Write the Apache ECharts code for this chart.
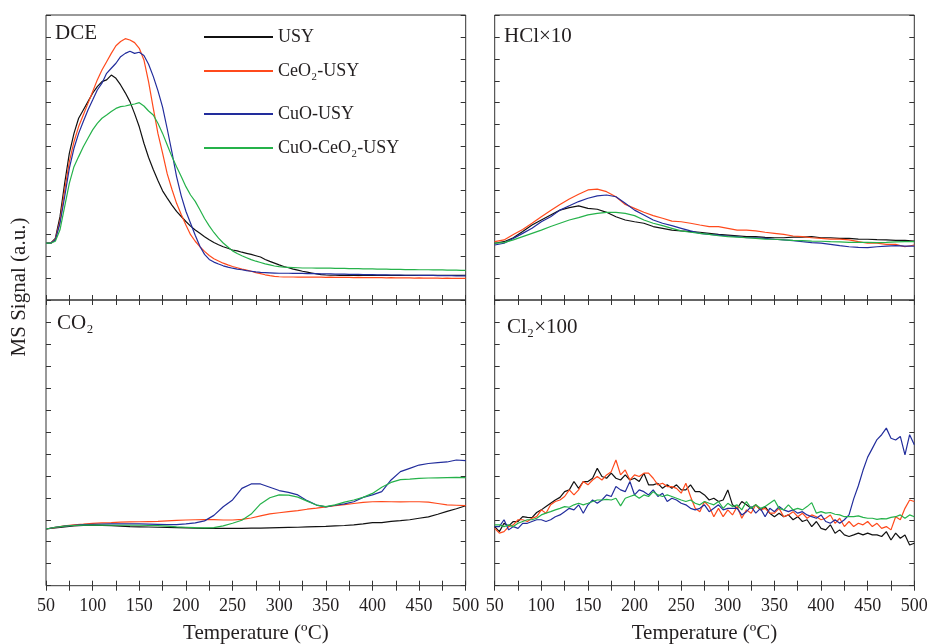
<!DOCTYPE html>
<html>
<head>
<meta charset="utf-8">
<script src="https://cdn.jsdelivr.net/npm/echarts/dist/echarts.min.js"></script>
<style>
  html, body { margin: 0; padding: 0; background: #fff; }
  #chart { width: 928px; height: 644px; }
</style>
</head>
<body>
<div id="chart"></div>
<script>
// temperature grids (ºC)
const temps = [50, 55, 60, 65, 70, 75, 80, 85, 90, 95, 100, 105, 110, 115, 120, 125, 130, 135, 140, 145,
  150, 155, 160, 165, 170, 175, 180, 185, 190, 195, 200, 205, 210, 215, 220, 225, 230, 235, 240, 245,
  250, 255, 260, 265, 270, 275, 280, 285, 290, 295, 300, 305, 310, 315, 320, 325, 330, 335, 340, 345,
  350, 355, 360, 365, 370, 375, 380, 385, 390, 395, 400, 405, 410, 415, 420, 425, 430, 435, 440, 445,
  450, 455, 460, 465, 470, 475, 480, 485, 490, 495, 500]
const tempsCoarse = [50, 60, 70, 80, 90, 100, 110, 120, 130, 140, 150, 160, 170, 180, 190, 200, 210, 220, 230, 240,
  250, 260, 270, 280, 290, 300, 310, 320, 330, 340, 350, 360, 370, 380, 390, 400, 410, 420, 430, 440,
  450, 460, 470, 480, 490, 500]

const samples = ['USY', 'CeO₂-USY', 'CuO-USY', 'CuO-CeO₂-USY']
const colors = ['#111111', '#ff4a1c', '#222d9c', '#25b24a']

// DCE (5 ºC steps)
const dceUSY = [2.59, 2.59, 2.81, 3.80, 5.32, 6.69, 7.60, 8.29, 8.67, 9.05,
  9.43, 9.73, 9.96, 10.04, 10.26, 10.11, 9.81, 9.45, 9.05, 8.50,
  7.90, 7.15, 6.50, 5.95, 5.45, 4.98, 4.65, 4.33, 4.04, 3.81,
  3.58, 3.37, 3.19, 3.04, 2.89, 2.75, 2.62, 2.52, 2.43, 2.36,
  2.28, 2.24, 2.18, 2.13, 2.08, 2.02, 1.96, 1.85, 1.76, 1.68,
  1.60, 1.53, 1.47, 1.41, 1.36, 1.31, 1.27, 1.23, 1.19, 1.16,
  1.14, 1.13, 1.13, 1.12, 1.13, 1.12, 1.12, 1.13, 1.12, 1.12,
  1.12, 1.13, 1.12, 1.12, 1.12, 1.12, 1.12, 1.13, 1.12, 1.12,
  1.12, 1.13, 1.12, 1.12, 1.13, 1.12, 1.12, 1.12, 1.13, 1.12,
  1.13]
const dceCeO2 = [2.59, 2.59, 2.76, 3.60, 5.00, 6.30, 7.22, 7.91, 8.44, 8.97,
  9.50, 10.04, 10.49, 10.87, 11.25, 11.60, 11.79, 11.92, 11.86, 11.74,
  11.48, 10.95, 9.95, 8.75, 7.60, 6.70, 5.75, 5.05, 4.41, 3.90,
  3.42, 2.98, 2.68, 2.43, 2.22, 2.03, 1.88, 1.78, 1.68, 1.60,
  1.53, 1.47, 1.41, 1.36, 1.31, 1.25, 1.20, 1.15, 1.11, 1.08,
  1.06, 1.05, 1.05, 1.05, 1.04, 1.05, 1.04, 1.04, 1.04, 1.04,
  1.03, 1.04, 1.03, 1.03, 1.03, 1.03, 1.02, 1.03, 1.02, 1.02,
  1.02, 1.02, 1.02, 1.01, 1.02, 1.01, 1.01, 1.01, 1.01, 1.00,
  1.01, 1.00, 1.00, 1.00, 1.00, 0.99, 1.00, 0.99, 0.99, 0.99,
  0.99]
const dceCuO = [2.59, 2.59, 2.74, 3.50, 4.71, 6.00, 6.92, 7.60, 8.14, 8.67,
  9.12, 9.58, 9.89, 10.34, 10.57, 10.80, 11.10, 11.25, 11.35, 11.25,
  11.30, 11.15, 10.75, 10.20, 9.55, 8.80, 7.80, 6.75, 5.63, 4.75,
  4.05, 3.50, 2.95, 2.45, 2.08, 1.85, 1.73, 1.64, 1.56, 1.50,
  1.45, 1.41, 1.38, 1.34, 1.31, 1.28, 1.26, 1.25, 1.24, 1.23,
  1.22, 1.22, 1.22, 1.21, 1.21, 1.21, 1.20, 1.20, 1.20, 1.19,
  1.19, 1.19, 1.18, 1.18, 1.18, 1.17, 1.17, 1.17, 1.16, 1.16,
  1.16, 1.15, 1.15, 1.15, 1.14, 1.14, 1.14, 1.13, 1.13, 1.13,
  1.12, 1.12, 1.12, 1.12, 1.11, 1.11, 1.11, 1.11, 1.10, 1.10,
  1.10]
const dceCuOCeO2 = [2.59, 2.59, 2.68, 3.20, 4.26, 5.32, 6.08, 6.54, 6.99, 7.38,
  7.76, 8.06, 8.29, 8.44, 8.60, 8.74, 8.82, 8.85, 8.90, 8.94,
  9.00, 8.85, 8.62, 8.44, 8.06, 7.60, 7.07, 6.54, 6.08, 5.63,
  5.17, 4.79, 4.50, 4.12, 3.72, 3.38, 3.08, 2.82, 2.60, 2.42,
  2.24, 2.12, 2.02, 1.93, 1.84, 1.77, 1.71, 1.65, 1.60, 1.55,
  1.52, 1.50, 1.49, 1.48, 1.47, 1.46, 1.46, 1.46, 1.45, 1.45,
  1.45, 1.45, 1.44, 1.44, 1.44, 1.43, 1.43, 1.43, 1.42, 1.42,
  1.42, 1.41, 1.41, 1.41, 1.40, 1.40, 1.40, 1.39, 1.39, 1.39,
  1.38, 1.38, 1.38, 1.37, 1.37, 1.37, 1.36, 1.36, 1.36, 1.35,
  1.35]

// HCl x10 (10 ºC steps)
const hclUSY = [2.59, 2.66, 2.84, 3.12, 3.42, 3.65, 3.88, 4.10, 4.21, 4.29,
  4.18, 4.14, 4.00, 3.80, 3.65, 3.57, 3.50, 3.35, 3.27, 3.19,
  3.15, 3.12, 3.09, 3.04, 2.99, 2.96, 2.93, 2.89, 2.89, 2.86,
  2.84, 2.84, 2.87, 2.87, 2.89, 2.84, 2.84, 2.81, 2.81, 2.78,
  2.77, 2.75, 2.74, 2.72, 2.72, 2.69]
const hclCeO2 = [2.66, 2.74, 2.99, 3.22, 3.50, 3.80, 4.08, 4.36, 4.61, 4.82,
  5.02, 5.06, 4.94, 4.71, 4.36, 4.18, 4.00, 3.85, 3.73, 3.60,
  3.57, 3.50, 3.42, 3.35, 3.35, 3.27, 3.19, 3.19, 3.15, 3.09,
  3.04, 2.99, 2.92, 2.89, 2.84, 2.81, 2.78, 2.78, 2.74, 2.66,
  2.59, 2.59, 2.54, 2.54, 2.43, 2.51]
const hclCuO = [2.51, 2.59, 2.81, 3.04, 3.27, 3.57, 3.80, 4.10, 4.30, 4.49,
  4.64, 4.75, 4.79, 4.71, 4.41, 4.10, 3.88, 3.65, 3.50, 3.39,
  3.27, 3.15, 3.04, 2.99, 2.96, 2.92, 2.89, 2.84, 2.84, 2.81,
  2.77, 2.74, 2.71, 2.66, 2.62, 2.59, 2.54, 2.48, 2.43, 2.40,
  2.39, 2.43, 2.46, 2.48, 2.46, 2.46]
const hclCuOCeO2 = [2.59, 2.62, 2.74, 2.89, 3.04, 3.19, 3.35, 3.50, 3.65, 3.76,
  3.88, 3.95, 4.00, 4.00, 3.95, 3.85, 3.65, 3.50, 3.39, 3.27,
  3.15, 3.09, 3.04, 2.99, 2.93, 2.89, 2.87, 2.84, 2.81, 2.78,
  2.77, 2.74, 2.72, 2.71, 2.69, 2.68, 2.66, 2.65, 2.63, 2.63,
  2.63, 2.62, 2.63, 2.65, 2.66, 2.66]

// CO2 (10 ºC steps)
const co2USY = [2.58, 2.63, 2.68, 2.72, 2.74, 2.75, 2.74, 2.73, 2.71, 2.69,
  2.68, 2.67, 2.66, 2.65, 2.64, 2.63, 2.62, 2.61, 2.61, 2.61,
  2.61, 2.61, 2.62, 2.62, 2.63, 2.64, 2.65, 2.66, 2.68, 2.69,
  2.70, 2.72, 2.74, 2.77, 2.81, 2.87, 2.87, 2.93, 2.96, 3.00,
  3.07, 3.13, 3.25, 3.38, 3.50, 3.64]
const co2CeO2 = [2.58, 2.65, 2.72, 2.77, 2.80, 2.84, 2.86, 2.87, 2.89, 2.90,
  2.91, 2.92, 2.93, 2.95, 2.97, 2.99, 3.00, 3.01, 3.01, 2.99,
  2.99, 3.02, 3.08, 3.18, 3.27, 3.32, 3.37, 3.42, 3.48, 3.53,
  3.59, 3.64, 3.69, 3.74, 3.79, 3.82, 3.83, 3.82, 3.81, 3.82,
  3.82, 3.80, 3.74, 3.68, 3.66, 3.64]
const co2CuO = [2.58, 2.66, 2.71, 2.75, 2.78, 2.79, 2.80, 2.81, 2.81, 2.81,
  2.81, 2.80, 2.79, 2.78, 2.78, 2.81, 2.86, 2.95, 3.20, 3.59,
  3.90, 4.43, 4.63, 4.63, 4.48, 4.33, 4.25, 4.13, 3.87, 3.67,
  3.59, 3.66, 3.72, 3.82, 4.02, 4.13, 4.28, 4.81, 5.19, 5.34,
  5.49, 5.56, 5.60, 5.63, 5.72, 5.69]
const co2CuOCeO2 = [2.58, 2.66, 2.71, 2.74, 2.76, 2.76, 2.76, 2.75, 2.75, 2.75,
  2.75, 2.74, 2.73, 2.71, 2.68, 2.66, 2.64, 2.63, 2.64, 2.72,
  2.84, 2.98, 3.26, 3.72, 4.00, 4.13, 4.12, 4.03, 3.85, 3.67,
  3.60, 3.68, 3.80, 3.90, 4.02, 4.20, 4.48, 4.70, 4.83, 4.85,
  4.88, 4.90, 4.91, 4.92, 4.93, 4.92]

// Cl2 x100 (5 ºC steps)
const cl2USY = [2.69, 2.46, 2.84, 2.72, 2.92, 2.92, 3.14, 3.11, 3.10, 3.33,
  3.45, 3.60, 3.75, 3.90, 4.02, 4.28, 4.36, 4.74, 4.43, 4.74,
  4.74, 4.89, 5.34, 4.97, 4.89, 5.12, 4.89, 4.81, 5.04, 4.81,
  4.89, 4.74, 5.12, 4.59, 4.59, 4.66, 4.43, 4.59, 4.43, 4.59,
  4.36, 4.36, 4.59, 4.28, 4.28, 4.13, 3.90, 3.98, 3.83, 3.90,
  4.36, 3.68, 3.52, 3.83, 3.68, 3.52, 3.68, 3.45, 3.60, 3.30,
  3.14, 3.30, 3.14, 3.22, 3.00, 3.14, 2.92, 3.00, 2.69, 2.92,
  2.61, 2.54, 2.77, 2.39, 2.54, 2.31, 2.24, 2.31, 2.39, 2.31,
  2.39, 2.31, 2.31, 2.24, 2.46, 2.08, 2.39, 2.16, 2.31, 1.85,
  1.93]
const cl2CeO2 = [2.61, 2.39, 2.46, 2.69, 2.77, 3.00, 3.00, 2.92, 3.07, 3.14,
  3.45, 3.30, 3.68, 3.83, 3.90, 4.06, 4.36, 4.13, 4.36, 4.74,
  4.59, 4.81, 4.97, 4.81, 5.04, 5.19, 5.72, 5.04, 5.27, 4.81,
  5.04, 4.97, 5.12, 5.12, 4.89, 4.59, 4.66, 4.51, 4.51, 4.43,
  4.21, 4.66, 4.06, 3.52, 3.37, 3.83, 3.60, 3.14, 3.52, 3.14,
  3.45, 3.22, 3.60, 3.07, 3.45, 3.30, 3.68, 3.45, 3.52, 3.30,
  3.30, 3.52, 3.14, 3.22, 3.37, 3.14, 3.30, 3.07, 3.22, 3.14,
  3.00, 3.07, 3.22, 2.84, 3.07, 2.69, 2.92, 2.69, 2.84, 2.77,
  2.92, 2.69, 2.84, 2.61, 2.69, 2.54, 3.14, 3.00, 3.52, 3.90,
  3.83]
const cl2CuO = [2.69, 2.69, 3.00, 2.54, 2.69, 2.61, 2.84, 2.84, 2.92, 3.00,
  3.00, 2.92, 3.00, 3.14, 3.22, 3.37, 3.52, 3.45, 3.68, 3.30,
  3.68, 3.90, 3.75, 3.90, 4.13, 4.06, 4.51, 4.36, 4.28, 4.74,
  4.13, 4.36, 4.28, 4.13, 4.36, 4.06, 4.21, 3.83, 3.98, 3.90,
  3.75, 3.68, 3.52, 3.45, 3.52, 3.68, 3.37, 3.52, 3.68, 3.45,
  3.52, 3.52, 3.52, 3.22, 3.37, 3.60, 3.30, 3.52, 3.14, 3.52,
  3.37, 3.60, 3.45, 3.37, 3.45, 3.30, 3.37, 3.22, 3.14, 3.07,
  3.22, 2.92, 2.84, 3.00, 2.84, 3.00, 3.22, 3.95, 4.55, 5.25,
  5.85, 6.25, 6.65, 6.87, 7.17, 6.71, 6.63, 6.79, 5.95, 6.87,
  6.41]
const cl2CuOCeO2 = [2.77, 2.77, 2.69, 2.77, 2.69, 2.84, 2.92, 3.00, 3.00, 3.07,
  3.22, 3.30, 3.37, 3.45, 3.52, 3.60, 3.57, 3.68, 3.75, 3.68,
  3.75, 3.83, 3.90, 3.90, 3.93, 3.90, 3.98, 3.63, 3.98, 4.06,
  4.13, 3.98, 4.13, 4.06, 4.28, 4.13, 4.06, 4.13, 4.06, 3.98,
  3.90, 3.83, 3.90, 3.75, 3.68, 3.83, 3.75, 3.68, 3.83, 3.52,
  3.75, 3.60, 3.68, 3.45, 3.83, 3.52, 3.68, 3.52, 3.60, 3.75,
  3.90, 3.52, 3.45, 3.68, 3.45, 3.52, 3.45, 3.60, 3.78, 3.30,
  3.37, 3.30, 3.33, 3.25, 3.22, 3.14, 3.14, 3.14, 3.18, 3.11,
  3.07, 3.07, 3.02, 3.05, 3.04, 3.11, 3.14, 3.22, 3.07, 3.22,
  3.14]

const panelNames = ['DCE', 'HCl×10', 'CO₂', 'Cl₂×100']

const serif = 'Liberation Serif'
const textColor = '#231f20'
const frameColor = '#333333'

const chart = echarts.init(document.getElementById('chart'))

const panels = [
  { x: temps, sets: [dceUSY, dceCeO2, dceCuO, dceCuOCeO2] },
  { x: tempsCoarse, sets: [hclUSY, hclCeO2, hclCuO, hclCuOCeO2] },
  { x: tempsCoarse, sets: [co2USY, co2CeO2, co2CuO, co2CuOCeO2] },
  { x: temps, sets: [cl2USY, cl2CeO2, cl2CuO, cl2CuOCeO2] }
]

// fixed panel boxes; outerBoundsMode off so labels at the edge don't shrink a panel
const grids = [
  { left: 46, top: 15, width: 419.7, height: 285 },
  { left: 494.7, top: 15, width: 419.6, height: 285 },
  { left: 46, top: 300, width: 419.7, height: 285.7 },
  { left: 494.7, top: 300, width: 419.6, height: 285.7 }
].map(g => Object.assign(g, {
  show: true,
  borderColor: frameColor,
  borderWidth: 1,
  containLabel: false,
  outerBoundsMode: 'none'
}))

const xAxes = []
const yAxes = []
const series = []

grids.forEach((g, i) => {
  const bottomRow = i >= 2
  const tickCfg = { show: true, inside: true, length: 5, lineStyle: { color: frameColor } }
  const base = {
    type: 'value',
    gridIndex: i,
    min: 50,
    max: 500,
    interval: 50,
    axisLine: { show: false },
    axisTick: tickCfg,
    minorTick: { show: true, splitNumber: 2, length: 5, lineStyle: { color: frameColor } },
    splitLine: { show: false },
    minorSplitLine: { show: false }
  }
  xAxes.push(Object.assign({}, base, {
    position: 'bottom',
    axisLabel: { show: bottomRow, margin: 12, fontFamily: serif, fontSize: 18, color: textColor },
    name: bottomRow ? 'Temperature (ºC)' : '',
    nameLocation: 'middle',
    nameGap: 37,
    nameTextStyle: { fontFamily: serif, fontSize: 21, color: textColor }
  }))
  xAxes.push(Object.assign({}, base, { position: 'top', axisLabel: { show: false } }))
  const yBase = {
    type: 'value',
    gridIndex: i,
    min: 0,
    max: 13,
    interval: 1,
    axisLine: { show: false },
    axisTick: tickCfg,
    axisLabel: { show: false },
    splitLine: { show: false }
  }
  yAxes.push(Object.assign({}, yBase, { position: 'left' }))
  yAxes.push(Object.assign({}, yBase, { position: 'right' }))

  panels[i].sets.forEach((vals, k) => {
    series.push({
      name: samples[k],
      type: 'line',
      xAxisIndex: i * 2,
      yAxisIndex: i * 2,
      showSymbol: false,
      symbol: 'none',
      animation: false,
      lineStyle: { width: 1.2, color: colors[k] },
      itemStyle: { color: colors[k] },
      data: panels[i].x.map((t, j) => [t, vals[j]])
    })
  })
})

const legendBase = {
  orient: 'vertical',
  left: 204,
  padding: 0,
  icon: 'rect',
  itemWidth: 69,
  itemHeight: 2,
  itemGap: 14,
  textStyle: { fontFamily: serif, fontSize: 18, color: textColor, lineHeight: 20 }
}

const labelPos = [[55, 33], [504, 36], [57, 323], [507, 327]]

chart.setOption({
  animation: false,
  grid: grids,
  xAxis: xAxes,
  yAxis: yAxes,
  legend: [
    Object.assign({}, legendBase, { top: 27, data: samples.slice(0, 2) }),
    Object.assign({}, legendBase, { top: 104, data: samples.slice(2) })
  ],
  graphic: panelNames.map((name, i) => ({
    type: 'text',
    x: labelPos[i][0],
    y: labelPos[i][1],
    style: {
      text: name,
      font: '21px "Liberation Serif"',
      fill: textColor,
      textVerticalAlign: 'middle'
    }
  })).concat([{
    type: 'text',
    x: 19,
    y: 287,
    rotation: Math.PI / 2,
    style: {
      text: 'MS Signal (a.u.)',
      font: '21px "Liberation Serif"',
      fill: textColor,
      textAlign: 'center',
      textVerticalAlign: 'middle'
    }
  }]),
  series: series
})
</script>
</body>
</html>
